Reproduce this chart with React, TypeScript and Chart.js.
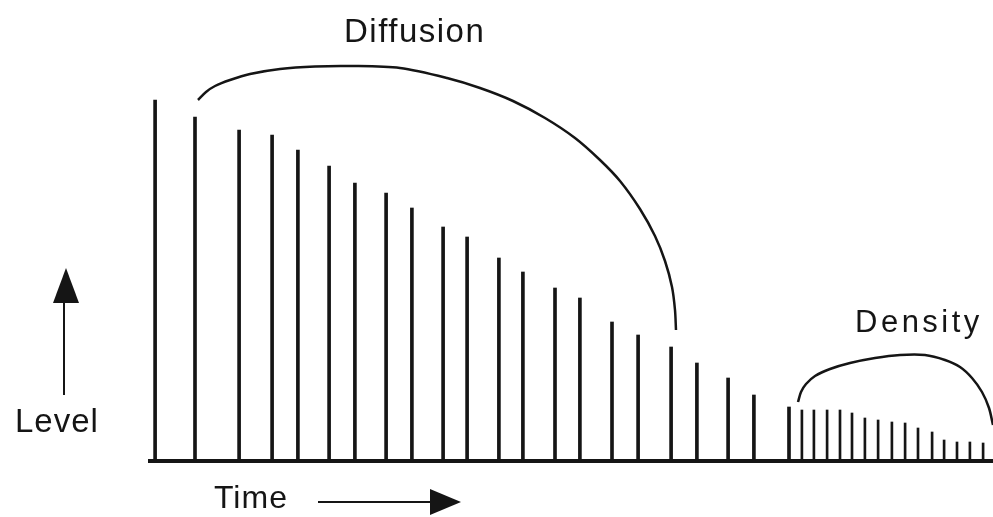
import React, { useEffect, useRef } from "react";
import { Chart, registerables } from "chart.js";

Chart.register(...registerables);

// Time (ms) of each discrete reflection in the early/diffuse part
const reflectionTimes = [1.7, 15, 29.7, 40.7, 49.3, 59.7, 68.3, 78.7, 87.3, 97.7, 105.7, 116.3, 124.3, 135, 143.3, 154, 162.7, 173.7, 182.3, 192.7, 201.3, 213];
const reflectionLevels = [90.25, 86, 82.75, 81.5, 77.75, 73.75, 69.5, 67, 63.25, 58.5, 56, 50.75, 47.25, 43.25, 40.75, 34.75, 31.5, 28.5, 24.5, 20.75, 16.5, 13.5];

// Dense late reflections
const denseTimes = [217.3, 221.3, 225.7, 230, 234, 238.3, 242.7, 247.3, 251.7, 256, 260.7, 264.7, 269, 273.3, 277.7];
const denseLevels = [12.75, 12.75, 12.75, 12.75, 12, 10.75, 10.25, 9.75, 9.5, 8.25, 7.25, 5.25, 4.75, 4.75, 4.5];

// Bracket curves
const diffusionCurveX = [16, 18.67, 21.67, 26.67, 33.33, 43.33, 55, 66.67, 83.33, 99, 110, 121, 131.67, 141.67, 150, 156.67, 163.33, 168.33, 171.67, 174, 175, 175.33];
const diffusionCurveY = [90.25, 92.25, 93.75, 95.25, 96.75, 98, 98.63, 98.75, 98.25, 95.75, 93.25, 90, 85.75, 80.75, 75.25, 70, 63, 56.25, 50, 43.5, 37.75, 32.75];
const densityCurveX = [216, 217, 218.67, 221.67, 226.67, 233.33, 241.67, 250, 258.33, 265, 270, 274, 277.33, 279.67, 281];
const densityCurveY = [14.75, 17.25, 19.25, 21.25, 23, 24.5, 25.75, 26.5, 26.5, 25.25, 23.5, 20.75, 17.25, 13.25, 9];

const bracketLabels = ["Diffusion", "Density"];
const axisLabels = { y: "Level", x: "Time" };

const INK = "#151515";

const pts = (xs: number[], ys: number[]) => xs.map((x, i) => ({ x, y: ys[i] }));

const overlayPlugin = {
  id: "overlay",
  afterDraw(chart: any) {
    const ctx = chart.ctx as CanvasRenderingContext2D;
    ctx.save();
    ctx.fillStyle = INK;
    ctx.strokeStyle = INK;
    ctx.textAlign = "left";
    ctx.textBaseline = "alphabetic";
    const draw = (text: string, x: number, y: number, size: number, spacing: number) => {
      ctx.font = `${size}px "Liberation Sans", Arial, sans-serif`;
      (ctx as any).letterSpacing = `${spacing}px`;
      ctx.fillText(text, x, y);
    };
    draw(bracketLabels[0], 344, 42, 33, 1.5);
    draw(bracketLabels[1], 855, 332, 31, 3.5);
    draw(axisLabels.y, 15, 432, 33, 1);
    draw(axisLabels.x, 214, 508, 32, 1);
    (ctx as any).letterSpacing = "0px";

    // Level arrow
    ctx.lineWidth = 2;
    ctx.beginPath();
    ctx.moveTo(64, 395);
    ctx.lineTo(64, 300);
    ctx.stroke();
    ctx.beginPath();
    ctx.moveTo(66, 268);
    ctx.lineTo(79, 303);
    ctx.lineTo(53, 303);
    ctx.closePath();
    ctx.fill();

    // Time arrow
    ctx.beginPath();
    ctx.moveTo(318, 502);
    ctx.lineTo(432, 502);
    ctx.stroke();
    ctx.beginPath();
    ctx.moveTo(461, 502);
    ctx.lineTo(430, 489);
    ctx.lineTo(430, 515);
    ctx.closePath();
    ctx.fill();
    ctx.restore();
  },
};

export default function App() {
  const ref = useRef<HTMLCanvasElement>(null);
  useEffect(() => {
    if (!ref.current) return;
    const chart = new Chart(ref.current, {
      type: "bar",
      data: {
        datasets: [
          {
            type: "bar",
            data: pts(reflectionTimes, reflectionLevels) as any,
            backgroundColor: INK,
            barThickness: 3,
            grouped: false,
          } as any,
          {
            type: "bar",
            data: pts(denseTimes, denseLevels) as any,
            backgroundColor: INK,
            barThickness: 2,
            grouped: false,
          } as any,
          {
            type: "line",
            data: pts(diffusionCurveX, diffusionCurveY) as any,
            borderColor: INK,
            borderWidth: 2.5,
            pointRadius: 0,
            tension: 0.3,
            fill: false,
            clip: false,
          } as any,
          {
            type: "line",
            data: pts(densityCurveX, densityCurveY) as any,
            borderColor: INK,
            borderWidth: 2.5,
            pointRadius: 0,
            tension: 0.3,
            fill: false,
            clip: false,
          } as any,
        ],
      },
      options: {
        responsive: false,
        animation: false,
        devicePixelRatio: 1,
        layout: { padding: { left: 150, right: 0, top: 61, bottom: 56 } },
        plugins: { legend: { display: false }, tooltip: { enabled: false } },
        scales: {
          x: {
            type: "linear",
            min: 0,
            max: 281,
            offset: false,
            ticks: { display: false },
            grid: { display: false, drawTicks: false },
            border: { display: true, width: 4, color: INK },
            afterFit: (s: any) => {
              s.height = 0;
            },
          },
          y: {
            display: false,
            min: 0,
            max: 100,
          },
        },
      } as any,
      plugins: [overlayPlugin],
    });
    return () => chart.destroy();
  }, []);
  return (
    <div style={{ position: "absolute", left: 0, top: 0, width: 993, height: 517, background: "#fff" }}>
      <canvas ref={ref} width={993} height={517} />
    </div>
  );
}
